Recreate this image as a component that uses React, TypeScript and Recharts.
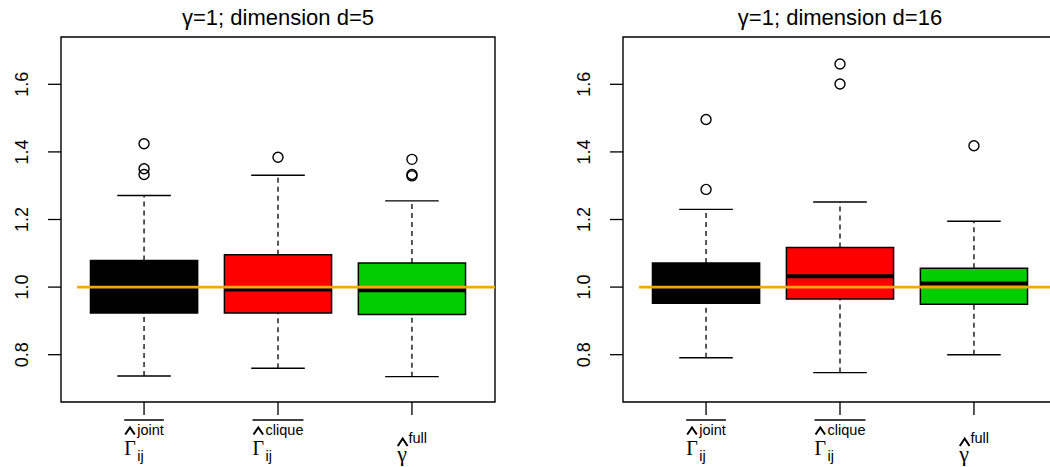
import React from 'react'
import {
  ComposedChart, XAxis, YAxis, Scatter, ReferenceArea, ReferenceLine,
} from 'recharts'

// three estimators, one box each
const estimators = ['joint', 'clique', 'full']
const boxColors = ['#000000', '#FF0000', '#00CD00']
const yTicks = [0.8, 1.0, 1.2, 1.4, 1.6]
const trueGamma = 1

// gamma = 1, d = 5
const d5Lower = [0.737, 0.760, 0.735]
const d5Q1 = [0.923, 0.923, 0.919]
const d5Median = [1.0, 0.993, 0.991]
const d5Q3 = [1.079, 1.096, 1.071]
const d5Upper = [1.271, 1.331, 1.255]
const d5Outliers = [[1.424, 1.350, 1.333], [1.384], [1.378, 1.333, 1.329]]

// gamma = 1, d = 16
const d16Lower = [0.791, 0.747, 0.800]
const d16Q1 = [0.952, 0.965, 0.949]
const d16Median = [1.0, 1.032, 1.011]
const d16Q3 = [1.071, 1.117, 1.056]
const d16Upper = [1.230, 1.252, 1.195]
const d16Outliers = [[1.496, 1.289], [1.660, 1.601], [1.418]]

const SANS = '"Liberation Sans", Arial, Helvetica, sans-serif'
const SERIF = '"Liberation Serif", "Times New Roman", serif'

let ctx: CanvasRenderingContext2D | null = null
function textWidth(s: string, font: string) {
  if (!ctx) ctx = document.createElement('canvas').getContext('2d')
  if (!ctx) return s.length * 7
  ctx.font = font
  return ctx.measureText(s).width
}

function EstimatorTick(props: any) {
  const { x, y, payload } = props
  const name = estimators[Math.round(payload.value) - 1]
  const supFont = `14.5px ${SANS}`
  const supW = textWidth(name, supFont)
  if (name === 'full') {
    const gW = textWidth('γ', `22px ${SERIF}`)
    const left = x - (gW + 1 + supW) / 2
    return (
      <g>
        <polyline
          points={`${left + 0.5},${y + 31} ${left + gW / 2 + 0.5},${y + 23.5} ${left + gW + 0.5},${y + 31}`}
          fill="none" stroke="#000" strokeWidth={2}
        />
        <text x={left} y={y + 46} fontFamily={SERIF} fontSize={22} fill="#000">γ</text>
        <text x={left + gW + 1.5} y={y + 28} fontFamily={SANS} fontSize={14.5} fill="#000">{name}</text>
      </g>
    )
  }
  const gW = textWidth('Γ', `20px ${SERIF}`)
  const total = gW + 1.5 + supW
  const left = x - total / 2
  return (
    <g>
      <line x1={left} x2={left + total} y1={y + 5} y2={y + 5} stroke="#000" strokeWidth={1.3} />
      <polyline
        points={`${left + 1},${y + 19.5} ${left + gW / 2},${y + 12.5} ${left + gW - 1},${y + 19.5}`}
        fill="none" stroke="#000" strokeWidth={2}
      />
      <text x={left} y={y + 40} fontFamily={SERIF} fontSize={20} fill="#000">Γ</text>
      <text x={left + gW + 1.5} y={y + 20} fontFamily={SANS} fontSize={14.5} fill="#000">{name}</text>
      <text x={left + gW + 1.5} y={y + 46} fontFamily={SANS} fontSize={14.5} fill="#000">ij</text>
    </g>
  )
}

function ValueTick(props: any) {
  const { x, y, payload } = props
  const bx = x - 20
  return (
    <text
      x={bx} y={y} transform={`rotate(-90, ${bx}, ${y})`}
      textAnchor="middle" fontFamily={SANS} fontSize={18} fill="#000"
    >
      {payload.value.toFixed(1)}
    </text>
  )
}

interface PanelProps {
  title: string
  left: number
  lower: number[]
  q1: number[]
  median: number[]
  q3: number[]
  upper: number[]
  outliers: number[][]
}

function BoxPanel({ title, left, lower, q1, median, q3, upper, outliers }: PanelProps) {
  const points = outliers.flatMap((vals, i) => vals.map(v => ({ x: i + 1, y: v })))
  const tickLine = { stroke: '#000', strokeWidth: 1.3 }

  return (
    <div style={{ position: 'absolute', left, top: 0, width: 525, height: 467 }}>
      <div style={{
        position: 'absolute', left: 61, top: 6, width: 434, textAlign: 'center',
        fontFamily: SANS, fontSize: 22, lineHeight: '23px', color: '#000',
      }}>
        {title}
      </div>
      <ComposedChart width={525} height={467} data={points}
        margin={{ top: 37, right: 30, bottom: 0, left: 0 }}>
        <XAxis type="number" dataKey="x" domain={[0.38, 3.62]} ticks={[1, 2, 3]} interval={0}
          allowDataOverflow height={65} tickSize={13} tickMargin={0} axisLine={false}
          tickLine={tickLine} tick={(p: any) => <EstimatorTick {...p} />} />
        <YAxis type="number" dataKey="y" domain={[0.66, 1.74]} ticks={yTicks} interval={0}
          allowDataOverflow width={61} tickSize={13} tickMargin={0} axisLine={false}
          tickLine={tickLine} tick={(p: any) => <ValueTick {...p} />} />

        {estimators.map((_, i) => (
          <ReferenceLine key={`wu${i}`} segment={[{ x: i + 1, y: q3[i] }, { x: i + 1, y: upper[i] }]}
            stroke="#000" strokeWidth={1.3} strokeDasharray="5 4" />
        ))}
        {estimators.map((_, i) => (
          <ReferenceLine key={`wl${i}`} segment={[{ x: i + 1, y: lower[i] }, { x: i + 1, y: q1[i] }]}
            stroke="#000" strokeWidth={1.3} strokeDasharray="5 4" />
        ))}
        {estimators.map((_, i) => (
          <ReferenceLine key={`cu${i}`} segment={[{ x: i + 0.8, y: upper[i] }, { x: i + 1.2, y: upper[i] }]}
            stroke="#000" strokeWidth={1.4} />
        ))}
        {estimators.map((_, i) => (
          <ReferenceLine key={`cl${i}`} segment={[{ x: i + 0.8, y: lower[i] }, { x: i + 1.2, y: lower[i] }]}
            stroke="#000" strokeWidth={1.4} />
        ))}
        {estimators.map((_, i) => (
          <ReferenceArea key={`b${i}`} x1={i + 0.6} x2={i + 1.4} y1={q1[i]} y2={q3[i]}
            fill={boxColors[i]} fillOpacity={1} stroke="#000" strokeWidth={1.5} />
        ))}
        {estimators.map((_, i) => (
          <ReferenceLine key={`m${i}`} segment={[{ x: i + 0.6, y: median[i] }, { x: i + 1.4, y: median[i] }]}
            stroke="#000" strokeWidth={4} />
        ))}

        <Scatter dataKey="y" isAnimationActive={false}
          shape={(p: any) => <circle cx={p.cx} cy={p.cy} r={5} fill="none" stroke="#000" strokeWidth={1.4} />} />

        <ReferenceLine segment={[{ x: 0.5, y: trueGamma }, { x: 3.62, y: trueGamma }]}
          stroke="#FFA500" strokeWidth={2.7} />
        <ReferenceArea x1={0.38} x2={3.62} y1={0.66} y2={1.74} ifOverflow="visible"
          fill="none" fillOpacity={0} stroke="#000" strokeWidth={1.4} />
      </ComposedChart>
    </div>
  )
}

export default function App() {
  return (
    <div style={{
      position: 'absolute', left: 0, top: 0, width: 1050, height: 467,
      overflow: 'hidden', background: '#fff',
    }}>
      <BoxPanel title="γ=1; dimension d=5" left={0}
        lower={d5Lower} q1={d5Q1} median={d5Median} q3={d5Q3} upper={d5Upper} outliers={d5Outliers} />
      <BoxPanel title="γ=1; dimension d=16" left={562}
        lower={d16Lower} q1={d16Q1} median={d16Median} q3={d16Q3} upper={d16Upper} outliers={d16Outliers} />
    </div>
  )
}
